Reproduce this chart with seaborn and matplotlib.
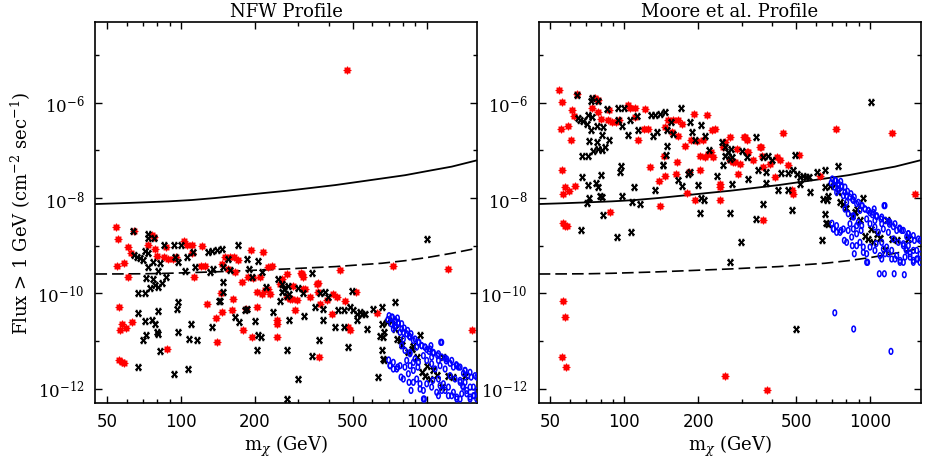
import numpy as np
import matplotlib
matplotlib.use("Agg")
import matplotlib.pyplot as plt
from matplotlib.path import Path
from matplotlib.transforms import Affine2D
from matplotlib.ticker import FixedLocator, FixedFormatter, NullFormatter
import seaborn as sns

# ---- limit curves (same in both panels) ----
curve_mass = [44.8, 56, 71.3, 88.8, 110.5, 137.5, 171, 213, 269, 335,
              424, 527, 656, 817, 1016, 1265, 1596]
solid_flux = [7.48e-9, 7.76e-9, 8.13e-9, 8.51e-9, 9.08e-9, 1.00e-8, 1.12e-8, 1.26e-8, 1.42e-8, 1.62e-8,
              1.87e-8, 2.19e-8, 2.57e-8, 3.02e-8, 3.72e-8, 4.57e-8, 6.17e-8]
dashed_flux = [2.54e-10, 2.55e-10, 2.57e-10, 2.63e-10, 2.72e-10, 2.82e-10, 2.95e-10, 3.09e-10, 3.24e-10, 3.43e-10,
               3.63e-10, 3.94e-10, 4.27e-10, 4.84e-10, 5.69e-10, 6.92e-10, 8.79e-10]

# ---- black "x" models: mass (GeV), log10 flux for NFW and Moore ----
black_mass = [63.9, 73.2, 77.9, 71.4, 68.1, 66.0, 64.6, 73.6, 70.2, 73.2,
              77.2, 82.2, 80.9, 85.3, 93.9, 100.0, 94.5, 97.5, 103.8, 112.3,
              105.5, 114.0, 128.4, 133.3, 139.7, 146.3, 131.2, 135.4, 170.3, 154.9,
              148.7, 158.3, 148.7, 147.8, 144.1, 185.0, 205.2, 189.1, 194.0, 213.0,
              221.8, 249.0, 256.8, 263.3, 256.8, 275.1, 67.0, 71.4, 74.8, 78.4,
              80.9, 83.5, 86.6, 77.2, 71.8, 67.0, 71.0, 76.5, 78.4, 80.4,
              71.8, 70.2, 79.6, 80.9, 82.2, 66.6, 93.6, 96.9, 96.0, 97.5,
              106.5, 109.8, 107.8, 115.8, 133.3, 143.2, 165.9, 172.2, 185.0, 182.0,
              200.1, 205.2, 211.0, 203.2, 237.6, 252.9, 269.2, 269.2, 275.1, 299.0,
              342.0, 366.0, 342.0, 271.6, 300.4, 314.7, 367.9, 385.5, 397.6, 377.3,
              377.3, 351.1, 269.2, 317.7, 423.5, 462.2, 434.2, 462.2, 487.3, 495.3,
              502.8, 518.7, 518.7, 535.2, 547.0, 569.7, 562.4, 606.4, 655.6, 743.0,
              479.8, 1006, 655.6, 672.8, 666.0, 645.5, 655.6, 662.0, 672.8, 635.5,
              720, 743, 754.6, 778.6, 795.7, 841.9, 868.6, 939.1, 910.2, 953.9,
              984.2, 1006, 1031, 1064, 1098, 1169, 1225, 1151, 1284, 687,
              882, 1432, 497.6, 73.6]
black_nfw = [-8.70, -8.83, -8.84, -9.12, -9.26, -9.24, -9.19, -9.16, -9.31, -9.44,
             -9.35, -9.37, -9.54, -8.99, -8.98, -8.98, -9.24, -9.35, -9.54, -9.14,
             -9.24, -9.45, -9.13, -9.12, -9.10, -9.07, -9.56, -9.49, -8.98, -9.28,
             -9.45, -9.52, -9.77, -9.97, -10.17, -9.28, -9.33, -9.49, -9.66, -9.56,
             -9.86, -9.70, -9.80, -9.91, -9.98, -10.01, -9.99, -9.99, -9.89, -9.83,
             -9.87, -9.79, -9.65, -9.70, -9.68, -10.42, -10.59, -10.56, -10.64, -10.38,
             -10.87, -10.98, -10.82, -10.85, -11.22, -11.54, -11.69, -10.19, -10.33, -10.82,
             -11.59, -10.64, -10.96, -10.99, -10.71, -10.17, -10.50, -10.61, -10.33, -10.36,
             -10.59, -10.87, -10.91, -11.19, -10.40, -10.17, -11.19, -12.22, -10.57, -11.80,
             -11.31, -10.99, -9.58, -9.84, -9.89, -10.00, -10.00, -9.98, -10.08, -10.33,
             -10.56, -10.29, -10.05, -10.47, -10.71, -10.71, -10.35, -10.35, -10.28, -9.96,
             -10.36, -10.43, -10.57, -10.40, -10.43, -10.75, -10.43, -10.33, -10.29, -10.19,
             -11.13, -8.86, -10.64, -10.82, -10.92, -10.89, -11.20, -11.39, -11.41, -11.76,
             -10.57, -10.75, -10.96, -10.99, -11.08, -11.24, -11.17, -10.87, -11.34, -11.66,
             -11.73, -11.52, -11.80, -11.62, -11.71, -11.34, -11.73, -11.97, -11.75, -10.61,
             -11.10, -11.73, -13.63, -8.76]
black_moore = [-5.83, -5.96, -5.97, -6.25, -6.39, -6.37, -6.32, -6.29, -6.44, -6.57,
               -6.48, -6.50, -6.67, -6.12, -6.11, -6.11, -6.37, -6.48, -6.67, -6.27,
               -6.37, -6.58, -6.26, -6.25, -6.23, -6.20, -6.69, -6.62, -6.11, -6.41,
               -6.58, -6.65, -6.90, -7.10, -7.30, -6.41, -6.46, -6.62, -6.79, -6.69,
               -6.99, -6.83, -6.93, -7.04, -7.11, -7.14, -7.12, -7.12, -7.02, -6.96,
               -7.00, -6.92, -6.78, -6.83, -6.81, -7.55, -7.72, -7.69, -7.77, -7.51,
               -8.00, -8.11, -7.95, -7.98, -8.35, -8.67, -8.82, -7.32, -7.46, -7.95,
               -8.72, -7.77, -8.09, -8.12, -7.84, -7.30, -7.63, -7.74, -7.46, -7.49,
               -7.72, -8.00, -8.04, -8.32, -7.53, -7.30, -8.32, -9.35, -7.70, -8.93,
               -8.44, -8.12, -6.71, -6.97, -7.02, -7.13, -7.13, -7.11, -7.21, -7.46,
               -7.69, -7.42, -7.18, -7.60, -7.84, -7.84, -7.48, -7.48, -7.41, -7.09,
               -7.49, -7.56, -7.70, -7.53, -7.56, -7.88, -7.56, -7.46, -7.42, -7.32,
               -8.26, -5.99, -7.77, -7.95, -8.05, -8.02, -8.33, -8.52, -8.54, -8.89,
               -7.70, -7.88, -8.09, -8.12, -8.21, -8.37, -8.30, -8.00, -8.47, -8.79,
               -8.86, -8.65, -8.93, -8.75, -8.84, -8.47, -8.86, -9.10, -8.88, -7.74,
               -8.23, -8.86, -10.76, -5.89]

# ---- red "*" models ----
red_mass = [54.4, 55.5, 55.1, 60.7, 58.8, 61.0, 62.6, 64.4, 55.9, 56.4,
            57.5, 59.7, 63.2, 56.1, 57.5, 58.6, 76.0, 77.9, 73.6, 78.4,
            80.1, 87.4, 86.6, 85.5, 88.8, 92.5, 95.4, 103.2, 105.5, 110.5,
            110.5, 121.4, 120.6, 125.2, 113.3, 127.2, 139.7, 138.4, 146.3, 145.0,
            146.3, 151.0, 158.3, 164.9, 171.1, 155.8, 165.9, 176.5, 163.3, 161.9,
            179.3, 183.9, 192.7, 216.3, 186.6, 197.0, 209.7, 203.2, 226.8, 234.0,
            213.0, 219.7, 225.1, 203.2, 230.3, 245.1, 245.1, 245.1, 194.0, 269.2,
            269.2, 256.8, 252.9, 277.7, 291.0, 286.6, 309.8, 314.7, 335.0, 356.6,
            366.0, 367.9, 391.6, 430.1, 443.7, 472.3, 479.8, 487.3, 515.4, 625.7,
            726.7, 1225, 1524, 307.5, 314.7, 282.1, 295.6, 319.7, 360.4, 362.3,
            416.9, 465.0, 410.4, 56.5, 57.4, 55.7, 57.9, 257.9, 381.9]
red_nfw = [-8.60, -8.86, -9.43, -9.65, -9.36, -9.03, -9.15, -8.69, -10.29, -10.78,
           -10.64, -10.73, -10.61, -11.40, -11.45, -11.46, -8.77, -8.81, -8.98, -9.07,
           -9.21, -11.17, -9.03, -9.24, -9.28, -9.28, -9.24, -8.91, -8.98, -8.98,
           -9.16, -9.01, -9.42, -9.42, -9.66, -10.22, -11.03, -10.52, -10.40, -9.99,
           -9.38, -9.24, -9.24, -9.24, -9.31, -9.49, -9.56, -9.77, -10.12, -10.36,
           -10.77, -10.32, -9.10, -9.13, -9.66, -9.68, -9.66, -9.98, -9.44, -9.42,
           -10.01, -9.94, -9.91, -10.29, -10.01, -10.57, -10.92, -10.64, -10.92, -10.08,
           -9.59, -9.70, -9.80, -10.12, -10.36, -9.84, -9.59, -9.91, -10.08, -9.80,
           -11.34, -10.22, -10.15, -10.08, -9.51, -5.31, -10.71, -10.78, -9.97, -10.41,
           -9.43, -9.50, -10.78, -9.58, -9.66, -10.12, -10.15, -9.91, -9.79, -9.98,
           -10.01, -10.17, -10.43, -13.04, -13.37, -14.20, -14.42, -14.60, -14.91]
red_moore = [-5.73, -5.99, -6.56, -6.78, -6.49, -6.16, -6.28, -5.82, -7.42, -7.91,
             -7.77, -7.86, -7.74, -8.53, -8.58, -8.59, -5.90, -5.94, -6.11, -6.20,
             -6.34, -8.30, -6.16, -6.37, -6.41, -6.41, -6.37, -6.04, -6.11, -6.11,
             -6.29, -6.14, -6.55, -6.55, -6.79, -7.35, -8.16, -7.65, -7.53, -7.12,
             -6.51, -6.37, -6.37, -6.37, -6.44, -6.62, -6.69, -6.90, -7.25, -7.49,
             -7.90, -7.45, -6.23, -6.26, -6.79, -6.81, -6.79, -7.11, -6.57, -6.55,
             -7.14, -7.07, -7.04, -7.42, -7.14, -7.70, -8.05, -7.77, -8.05, -7.21,
             -6.72, -6.83, -6.93, -7.25, -7.49, -6.97, -6.72, -7.04, -7.21, -6.93,
             -8.47, -7.35, -7.28, -7.21, -6.64, -2.44, -7.84, -7.91, -7.10, -7.54,
             -6.56, -6.63, -7.91, -6.71, -6.79, -7.25, -7.28, -7.04, -6.92, -7.11,
             -7.14, -7.30, -7.56, -10.17, -10.50, -11.33, -11.55, -11.73, -12.04]

# ---- blue "o" models ----
blue_mass = [702.4, 724.6, 743.0, 766.5, 790.8, 810.0, 836.5, 863.1, 896.1, 930.3,
             953.9, 984.2, 1022, 1064, 1108, 1151, 1188, 1244, 1284, 1346,
             1410, 1469, 1516, 1598, 716, 731.4, 778.6, 803.3, 790.8, 815.2,
             855.1, 882.2, 919.9, 828.8, 855.1, 709, 731, 762, 786, 847,
             863, 939, 969, 978, 1116, 1151, 1225, 1264, 1325, 1388,
             1455, 1501, 1549, 1367, 1116, 1058, 1169, 1432, 743, 910,
             1047, 1116, 1091, 1144, 1254, 1379, 718.8, 858, 1217, 760,
             850, 1000, 1200, 1320, 695, 1040, 700, 1400, 1600, 1560,
             720, 743, 767, 791, 803, 829, 855, 882, 925, 954,
             984, 1031, 1064, 1116, 1151, 1206, 1264, 1325, 1367, 1432,
             1501, 1573, 855, 896, 925, 969, 1000, 1047, 1081, 1133,
             1188, 1244, 1304, 1367, 1432, 1501, 1140, 709, 731, 755,
             779, 815, 803, 842, 882, 882, 910, 939, 969, 1000,
             1047, 1098, 1133, 1188, 1225, 1284, 1325, 1367, 1410, 1455,
             1501, 1549, 1598]
blue_nfw = [-10.47, -10.50, -10.56, -10.61, -10.64, -10.73, -10.78, -10.85, -10.96, -11.03,
            -11.10, -11.13, -11.22, -11.26, -11.31, -11.03, -11.36, -11.47, -11.55, -11.55,
            -11.68, -11.73, -11.76, -11.76, -10.64, -10.75, -10.82, -10.96, -11.10, -11.20,
            -11.27, -11.45, -11.55, -11.41, -11.52, -11.52, -11.59, -11.55, -11.76, -11.87,
            -12.04, -11.90, -12.04, -12.22, -12.15, -12.04, -11.97, -12.15, -12.22, -12.11,
            -12.04, -12.22, -11.97, -11.87, -11.80, -11.83, -11.90, -11.62, -10.71, -11.13,
            -11.34, -11.41, -12.46, -12.46, -12.46, -12.48, -13.28, -13.62, -14.09, -10.52,
            -10.90, -11.18, -11.42, -11.50, -10.55, -11.10, -11.40, -11.95, -12.05, -12.15,
            -10.50, -10.61, -10.64, -10.75, -10.82, -10.85, -10.92, -10.99, -11.03, -11.10,
            -11.13, -11.17, -11.24, -11.27, -11.34, -11.38, -11.41, -11.52, -11.55, -11.62,
            -11.66, -11.73, -11.24, -11.38, -11.45, -11.31, -11.41, -11.48, -11.59, -11.52,
            -11.59, -11.73, -11.80, -11.83, -11.87, -11.97, -11.03, -11.52, -11.45, -11.59,
            -11.52, -11.55, -11.80, -11.69, -11.62, -11.87, -11.80, -12.01, -12.22, -11.90,
            -11.97, -12.08, -11.94, -12.04, -12.15, -12.08, -12.18, -12.22, -11.97, -12.11,
            -12.18, -12.15, -12.22]
blue_moore = [-7.60, -7.63, -7.69, -7.74, -7.77, -7.86, -7.91, -7.98, -8.09, -8.16,
              -8.23, -8.26, -8.35, -8.39, -8.44, -8.16, -8.49, -8.60, -8.68, -8.68,
              -8.81, -8.86, -8.89, -8.89, -7.77, -7.88, -7.95, -8.09, -8.23, -8.33,
              -8.40, -8.58, -8.68, -8.54, -8.65, -8.65, -8.72, -8.68, -8.89, -9.00,
              -9.17, -9.03, -9.17, -9.35, -9.28, -9.17, -9.10, -9.28, -9.35, -9.24,
              -9.17, -9.35, -9.10, -9.00, -8.93, -8.96, -9.03, -8.75, -7.84, -8.26,
              -8.47, -8.54, -9.59, -9.59, -9.59, -9.61, -10.41, -10.75, -11.22, -7.65,
              -8.03, -8.31, -8.55, -8.63, -7.68, -8.23, -8.53, -9.08, -9.18, -9.28,
              -7.63, -7.74, -7.77, -7.88, -7.95, -7.98, -8.05, -8.12, -8.16, -8.23,
              -8.26, -8.30, -8.37, -8.40, -8.47, -8.51, -8.54, -8.65, -8.68, -8.75,
              -8.79, -8.86, -8.37, -8.51, -8.58, -8.44, -8.54, -8.61, -8.72, -8.65,
              -8.72, -8.86, -8.93, -8.96, -9.00, -9.10, -8.16, -8.65, -8.58, -8.72,
              -8.65, -8.68, -8.93, -8.82, -8.75, -9.00, -8.93, -9.14, -9.35, -9.03,
              -9.10, -9.21, -9.07, -9.17, -9.28, -9.21, -9.31, -9.35, -9.10, -9.24,
              -9.31, -9.28, -9.35]

panel_titles = ["NFW Profile", "Moore et al. Profile"]
xtick_major = [50, 100, 200, 500, 1000]
xtick_minor = [60, 70, 80, 90, 300, 400, 600, 700, 800, 900]
ytick_major = [1e-12, 1e-10, 1e-8, 1e-6]
ytick_minor = [1e-11, 1e-9, 1e-7, 1e-5]
ytick_labels = [r"$10^{-12}$", r"$10^{-10}$", r"$10^{-8}$", r"$10^{-6}$"]

sns.set_style("ticks", rc={"axes.edgecolor": "black", "text.color": "black",
                           "axes.labelcolor": "black", "xtick.color": "black",
                           "ytick.color": "black"})
plt.rcParams["font.family"] = ["DejaVu Serif", "DejaVu Sans"]
plt.rcParams["mathtext.fontset"] = "dejavuserif"

# marker shapes
chi_marker = Path([(-1, 1), (1, -1), (1, 1), (-1, -1),
                   (-1, 1), (-0.35, 1), (0.35, 1), (1, 1),
                   (-1, -1), (-0.35, -1), (0.35, -1), (1, -1)],
                  [Path.MOVETO, Path.LINETO, Path.MOVETO, Path.LINETO,
                   Path.MOVETO, Path.LINETO, Path.MOVETO, Path.LINETO,
                   Path.MOVETO, Path.LINETO, Path.MOVETO, Path.LINETO])
circ = Path.unit_circle()
oval_marker = Path(Affine2D().scale(0.62, 1.0).transform(circ.vertices), circ.codes)

fig = plt.figure(figsize=(9.26, 4.64), dpi=100)
ax_l = fig.add_axes([0.103, 0.1287, 0.4125, 0.822])
ax_r = fig.add_axes([0.5817, 0.1287, 0.4125, 0.822])

for ax, title, key in [(ax_l, panel_titles[0], "nfw"), (ax_r, panel_titles[1], "moore")]:
    red_y = 10 ** np.array(red_nfw if key == "nfw" else red_moore)
    black_y = 10 ** np.array(black_nfw if key == "nfw" else black_moore)
    blue_y = 10 ** np.array(blue_nfw if key == "nfw" else blue_moore)

    sns.lineplot(x=curve_mass, y=solid_flux, ax=ax, color="black", lw=1.3, zorder=1)
    sns.lineplot(x=curve_mass, y=dashed_flux, ax=ax, color="black", lw=1.2,
                 linestyle=(0, (7, 3)), zorder=1)

    sns.scatterplot(x=red_mass, y=red_y, ax=ax, marker=(8, 1, 0), s=24,
                    color="#ff0000", edgecolor="#ff0000", linewidth=1.0, zorder=2)
    sns.scatterplot(x=black_mass, y=black_y, ax=ax, marker=chi_marker, s=15,
                    color="black", edgecolor="black", linewidth=1.5, zorder=3)
    sns.scatterplot(x=blue_mass, y=blue_y, ax=ax, marker=oval_marker, s=17,
                    facecolors="none", edgecolor="#0000ff", linewidth=1.1, zorder=4)

    ax.set_xscale("log")
    ax.set_yscale("log")
    ax.set_xlim(44.8, 1607)
    ax.set_ylim(4.9e-13, 5.0e-5)

    ax.xaxis.set_major_locator(FixedLocator(xtick_major))
    ax.xaxis.set_major_formatter(FixedFormatter([str(v) for v in xtick_major]))
    ax.xaxis.set_minor_locator(FixedLocator(xtick_minor))
    ax.xaxis.set_minor_formatter(NullFormatter())
    ax.yaxis.set_major_locator(FixedLocator(ytick_major))
    ax.yaxis.set_major_formatter(FixedFormatter(ytick_labels))
    ax.yaxis.set_minor_locator(FixedLocator(ytick_minor))
    ax.yaxis.set_minor_formatter(NullFormatter())

    ax.tick_params(which="both", direction="in", top=True, right=True, width=1.0,
                   color="black", labelcolor="black")
    ax.tick_params(which="major", length=5)
    ax.tick_params(which="minor", length=3)
    ax.tick_params(axis="x", which="major", labelsize=12, pad=6)
    ax.tick_params(axis="y", which="major", labelsize=12, pad=8)
    for lab in ax.get_xticklabels() + ax.get_yticklabels():
        lab.set_family("DejaVu Sans")
    for sp in ax.spines.values():
        sp.set_linewidth(1.2)
        sp.set_color("black")

    ax.set_title(title, fontsize=13, pad=4, color="black")
    ax.set_xlabel(r"m$_{\chi}$ (GeV)", fontsize=13, labelpad=2)
    ax.set_ylabel("")

ax_l.set_ylabel(r"Flux > 1 GeV (cm$^{-2}$ sec$^{-1}$)", fontsize=13, labelpad=3)

fig.savefig("out.png", dpi=100)
